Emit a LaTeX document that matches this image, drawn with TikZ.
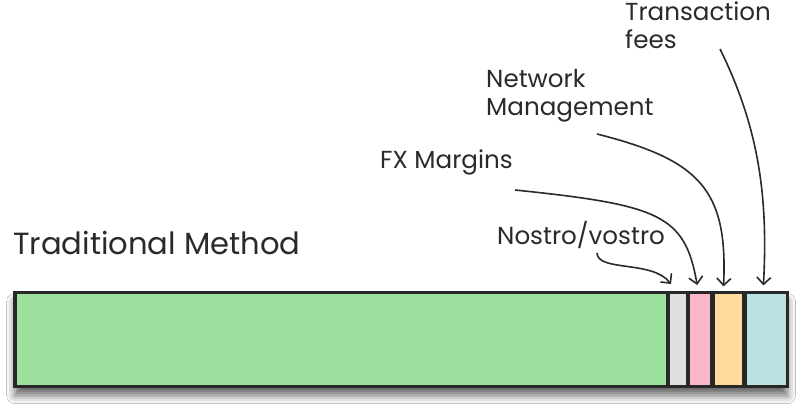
\documentclass[tikz,border=0pt]{standalone}
\usepackage{fontspec}
\setmainfont{Poppins}
\usetikzlibrary{arrows.meta,shadows.blur}
\definecolor{ink}{HTML}{2A2A2A}
\definecolor{edge}{HTML}{282828}
\definecolor{cgreen}{HTML}{9CE09D}
\definecolor{cgrey}{HTML}{E0DEDF}
\definecolor{cpink}{HTML}{FBB7C7}
\definecolor{corange}{HTML}{FEDA9C}
\definecolor{cteal}{HTML}{BBE2E2}
\begin{document}
\begin{tikzpicture}[x=1pt,y=-1pt,
  segbox/.style={draw=edge,line width=3.5pt,inner sep=0pt,outer sep=0pt,minimum height=94.2pt},
  lbl/.style={text=ink,inner sep=0pt,anchor=base west,align=left,font=\fontsize{24.6}{28}\selectfont},
  conn/.style={draw=ink,line width=1.6pt,-{Straight Barb[length=7pt,width=14pt,line width=1.6pt]}}]
\useasboundingbox (0,0) rectangle (802,416);
\fill[white] (0,0) rectangle (802,416);
% bar with shadow
\node[segbox,fill=white,minimum width=772.75pt,
  blur shadow={shadow xshift=0pt,shadow yshift=-9pt,shadow blur radius=8pt,shadow opacity=60}]
  (bar) at (401.125,339.5) {};
\node[segbox,fill=cgreen,minimum width=652.75pt] (g) at (341.125,339.5) {};
\node[segbox,fill=cgrey,minimum width=19pt] (gr) at (678,339.5) {};
\node[segbox,fill=cpink,minimum width=23.3pt] (pk) at (700.15,339.5) {};
\node[segbox,fill=corange,minimum width=31pt] (or) at (728.5,339.5) {};
\node[segbox,fill=cteal,minimum width=42.2pt] (tl) at (766.4,339.5) {};
% labels (base anchor = baseline of last line)
\node[lbl,font=\fontsize{30.6}{34}\selectfont] (trad) at (13,254.5) {Traditional Method};
\node[lbl] (nos) at (497,244) {Nostro/vostro};
\node[lbl] (fx) at (380,168) {FX Margins};
\node[lbl] (net) at (486,115) {Network\\Management};
\node[lbl] (tx) at (625,48) {Transaction\\fees};
% connector start points
\coordinate (s1) at (597,253);
\coordinate (s2) at (515,190);
\coordinate (s3) at (597,134);
\coordinate (s4) at (720,49);
\path[conn] (s1) .. controls (598,272) and (652,260) .. ([xshift=-7pt,yshift=8.4pt]gr.north);
\path[conn] (s2) .. controls (660,205) and (685,215) .. ([xshift=-3pt,yshift=7.4pt]pk.north);
\path[conn] (s3) .. controls (700,160) and (728,190) .. ([xshift=-5pt,yshift=6pt]or.north);
\path[conn] (s4) .. controls (760,130) and (768,200) .. ([xshift=-3pt,yshift=7pt]tl.north);
\end{tikzpicture}
\end{document}
